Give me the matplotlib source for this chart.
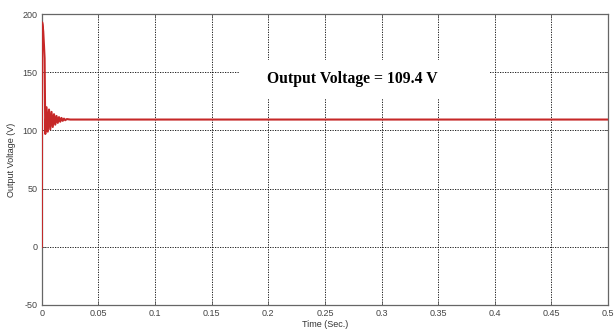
import numpy as np
import matplotlib.pyplot as plt
from matplotlib.patches import Rectangle

plt.rcParams['axes.unicode_minus'] = False

time_s = [0, 0.0002, 0.0006, 0.0012, 0.0018, 0.0024, 0.0030, 0.0041, 0.0052,
          0.0063, 0.0074, 0.0085, 0.0096, 0.0107, 0.0118, 0.0129, 0.0140,
          0.0151, 0.0162, 0.0173, 0.0184, 0.0195, 0.0206, 0.0220, 0.0250, 0.5]
volts = [0, 193, 191, 185, 174, 162, 97, 120, 99,
         118, 101, 116, 103, 114, 105, 112.5, 106.5,
         111.5, 107.5, 110.8, 108.3, 110.2, 108.8, 109.8, 109.4, 109.4]

xticks = [0, 0.05, 0.1, 0.15, 0.2, 0.25, 0.3, 0.35, 0.4, 0.45, 0.5]
xticklabels = ['0', '0.05', '0.1', '0.15', '0.2', '0.25', '0.3', '0.35', '0.4', '0.45', '0.5']
yticks = [-50, 0, 50, 100, 150, 200]
label_text = 'Output Voltage = 109.4 V'

fig = plt.figure(figsize=(6.16, 3.29), dpi=100)
ax = fig.add_axes([0.068, 0.073, 0.919, 0.884])

ax.plot(time_s, volts, color='#c62828', lw=1.5, zorder=3)

ax.set_xlim(0, 0.5)
ax.set_ylim(-50, 200)
ax.set_xticks(xticks)
ax.set_xticklabels(xticklabels)
ax.set_yticks(yticks)
ax.tick_params(direction='in', length=3, width=0.6, colors='#555555',
               labelcolor='#444444', labelsize=6.5, top=True, right=True, pad=3)
for lab in ax.get_xticklabels() + ax.get_yticklabels():
    lab.set_family('Liberation Sans')

ax.grid(True, color='black', linestyle=(0, (1.5, 1.5)), lw=0.6)
for sp in ax.spines.values():
    sp.set_color('#666666')
    sp.set_linewidth(0.9)

ax.set_xlabel('Time (Sec.)', fontsize=6.5, family='Liberation Sans', color='#333333', labelpad=1)
ax.set_ylabel('Output Voltage (V)', fontsize=6.5, family='Liberation Sans', color='#333333', labelpad=5)

# white patch hiding the grid behind the annotation
ax.add_patch(Rectangle((0.35, 0.711), 0.44, 0.131, transform=ax.transAxes,
                       facecolor='white', edgecolor='none', zorder=2.5))
ax.text(0.274, 144, label_text, fontsize=11.3, fontweight='bold',
        family='Liberation Serif', ha='center', va='center', zorder=4)

fig.savefig('out.png', dpi=100)
